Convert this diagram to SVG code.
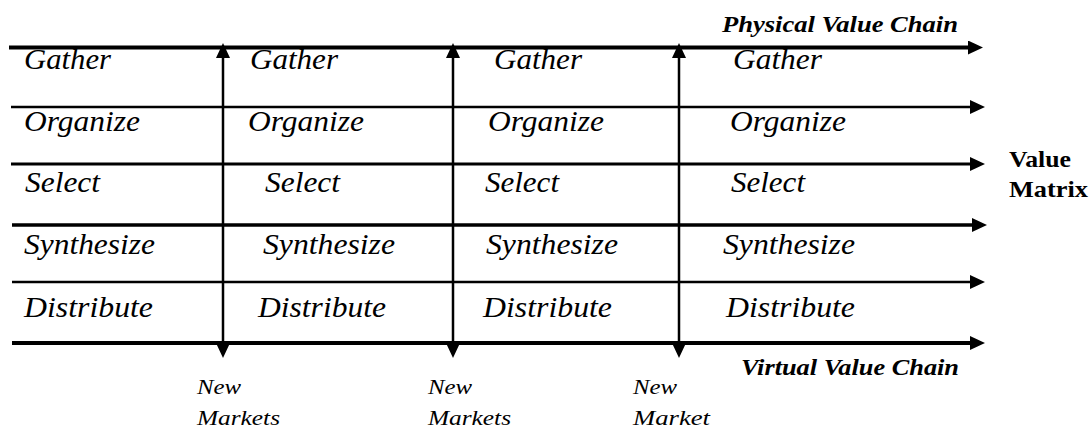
<svg xmlns="http://www.w3.org/2000/svg" width="1089" height="428" viewBox="0 0 1089 428">
<style>
.ln{stroke:#000;fill:none;stroke-linecap:butt}
text{font-family:"Liberation Serif","Times New Roman",serif;fill:#000}
.cell{font-style:italic;font-size:29px}
.nm{font-style:italic;font-size:22px}
.ttl{font-style:italic;font-weight:bold;font-size:23px}
.vm{font-weight:bold;font-size:24px}
</style>
<defs>
<marker id="ah" viewBox="0 0 15 14" refX="0" refY="7" markerWidth="15" markerHeight="14" markerUnits="userSpaceOnUse" orient="auto-start-reverse">
<path d="M0,0 L15,7 L0,14 Z" fill="#000"/>
</marker>
</defs>
<rect width="1089" height="428" fill="#fff"/>
<g id="connectors">
<line class="ln" x1="9" y1="47.5" x2="968" y2="47.5" stroke-width="4" marker-end="url(#ah)"/>
<line class="ln" x1="11" y1="107" x2="970" y2="107" stroke-width="2.5" marker-end="url(#ah)"/>
<line class="ln" x1="11" y1="164" x2="970" y2="164" stroke-width="3" marker-end="url(#ah)"/>
<line class="ln" x1="12" y1="225" x2="972" y2="225" stroke-width="3.5" marker-end="url(#ah)"/>
<line class="ln" x1="12" y1="282" x2="970" y2="282" stroke-width="2.5" marker-end="url(#ah)"/>
<line class="ln" x1="12" y1="343" x2="970" y2="343" stroke-width="4" marker-end="url(#ah)"/>
<line class="ln" x1="223" y1="58" x2="223" y2="343" stroke-width="2.5" marker-start="url(#ah)" marker-end="url(#ah)"/>
<line class="ln" x1="453" y1="58" x2="453" y2="343" stroke-width="2.5" marker-start="url(#ah)" marker-end="url(#ah)"/>
<line class="ln" x1="679" y1="58" x2="679" y2="343" stroke-width="2.5" marker-start="url(#ah)" marker-end="url(#ah)"/>
</g>
<g id="col1">
<text class="cell" x="24" y="69" textLength="87" lengthAdjust="spacingAndGlyphs">Gather</text>
<text class="cell" x="24" y="131" textLength="116" lengthAdjust="spacingAndGlyphs">Organize</text>
<text class="cell" x="25" y="192" textLength="75" lengthAdjust="spacingAndGlyphs">Select</text>
<text class="cell" x="24" y="254" textLength="131" lengthAdjust="spacingAndGlyphs">Synthesize</text>
<text class="cell" x="24" y="317" textLength="129" lengthAdjust="spacingAndGlyphs">Distribute</text>
</g>
<g id="col2">
<text class="cell" x="250" y="69" textLength="88" lengthAdjust="spacingAndGlyphs">Gather</text>
<text class="cell" x="248" y="131" textLength="116" lengthAdjust="spacingAndGlyphs">Organize</text>
<text class="cell" x="265" y="192" textLength="75" lengthAdjust="spacingAndGlyphs">Select</text>
<text class="cell" x="263" y="254" textLength="132" lengthAdjust="spacingAndGlyphs">Synthesize</text>
<text class="cell" x="258" y="317" textLength="128" lengthAdjust="spacingAndGlyphs">Distribute</text>
</g>
<g id="col3">
<text class="cell" x="494" y="69" textLength="88" lengthAdjust="spacingAndGlyphs">Gather</text>
<text class="cell" x="488" y="131" textLength="116" lengthAdjust="spacingAndGlyphs">Organize</text>
<text class="cell" x="485" y="192" textLength="74" lengthAdjust="spacingAndGlyphs">Select</text>
<text class="cell" x="486" y="254" textLength="132" lengthAdjust="spacingAndGlyphs">Synthesize</text>
<text class="cell" x="483" y="317" textLength="129" lengthAdjust="spacingAndGlyphs">Distribute</text>
</g>
<g id="col4">
<text class="cell" x="733" y="69" textLength="89" lengthAdjust="spacingAndGlyphs">Gather</text>
<text class="cell" x="730" y="131" textLength="116" lengthAdjust="spacingAndGlyphs">Organize</text>
<text class="cell" x="731" y="192" textLength="74" lengthAdjust="spacingAndGlyphs">Select</text>
<text class="cell" x="723" y="254" textLength="132" lengthAdjust="spacingAndGlyphs">Synthesize</text>
<text class="cell" x="726" y="317" textLength="129" lengthAdjust="spacingAndGlyphs">Distribute</text>
</g>
<g id="physical-label">
<text class="ttl" x="722" y="32" textLength="236" lengthAdjust="spacingAndGlyphs">Physical Value Chain</text>
</g>
<g id="virtual-label">
<text class="ttl" x="741" y="375" textLength="218" lengthAdjust="spacingAndGlyphs">Virtual Value Chain</text>
</g>
<g id="value-matrix">
<text class="vm" x="1009" y="167" textLength="62" lengthAdjust="spacingAndGlyphs">Value</text>
<text class="vm" x="1009" y="197" textLength="79" lengthAdjust="spacingAndGlyphs">Matrix</text>
</g>
<g id="new-markets-1">
<text class="nm" x="197" y="394" textLength="44" lengthAdjust="spacingAndGlyphs">New</text>
<text class="nm" x="197" y="425" textLength="83" lengthAdjust="spacingAndGlyphs">Markets</text>
</g>
<g id="new-markets-2">
<text class="nm" x="428" y="394" textLength="44" lengthAdjust="spacingAndGlyphs">New</text>
<text class="nm" x="428" y="425" textLength="83" lengthAdjust="spacingAndGlyphs">Markets</text>
</g>
<g id="new-market-3">
<text class="nm" x="633" y="394" textLength="44" lengthAdjust="spacingAndGlyphs">New</text>
<text class="nm" x="633" y="425" textLength="77" lengthAdjust="spacingAndGlyphs">Market</text>
</g>
</svg>
